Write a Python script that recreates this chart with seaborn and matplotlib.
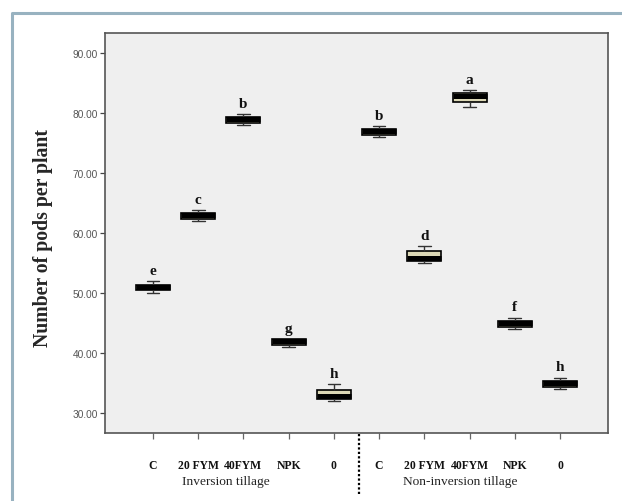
import numpy as np
import pandas as pd
import matplotlib
matplotlib.use("Agg")
import matplotlib.pyplot as plt
import matplotlib.transforms as mtransforms
from matplotlib.lines import Line2D
import seaborn as sns

# ---- data ----
treatments = ["C", "20 FYM", "40FYM", "NPK", "0"]
groups = ["Inversion tillage", "Non-inversion tillage"]
mins    = [50.0, 62.0, 78.0, 41.0, 32.0,   76.0, 55.0, 81.0, 44.0, 34.0]
q1s     = [50.5, 62.4, 78.3, 41.4, 32.3,   76.3, 55.3, 81.8, 44.3, 34.3]
medians = [51.0, 63.0, 79.0, 42.0, 32.9,   77.0, 55.9, 82.9, 45.0, 35.0]
q3s     = [51.4, 63.4, 79.3, 42.3, 33.8,   77.3, 57.0, 83.3, 45.3, 35.3]
maxs    = [52.0, 63.8, 79.8, 42.3, 34.8,   77.8, 57.8, 83.8, 45.9, 35.9]
letters = ["e", "c", "b", "g", "h",   "b", "d", "a", "f", "h"]
ytick_vals = [30, 40, 50, 60, 70, 80, 90]

rows = []
keys = []
for gi, g in enumerate(groups):
    for ti, t in enumerate(treatments):
        k = gi * len(treatments) + ti
        key = f"{g}|{t}"
        keys.append(key)
        for v in (mins[k], q1s[k], medians[k], q3s[k], maxs[k]):
            rows.append({"cell": key, "value": v})
df = pd.DataFrame(rows)

sns.set_theme(style="white")
plt.rcParams["font.family"] = ["Liberation Serif", "DejaVu Serif"]

fig = plt.figure(figsize=(6.22, 5.02), dpi=100)
ax = fig.add_axes([105 / 622, 1 - 434 / 502, (608 - 105) / 622, (434 - 34) / 502])
ax.set_facecolor("#efefef")

sns.boxplot(data=df, x="cell", y="value", order=keys, ax=ax,
            whis=(0, 100), width=0.75, color="#dcd8b6", saturation=1,
            linecolor="black", linewidth=1.2,
            medianprops=dict(color="black", linewidth=3.6, solid_capstyle="butt"),
            whiskerprops=dict(color="#333333", linewidth=1.0),
            capprops=dict(color="#333333", linewidth=1.0),
            capwidths=0.28)

ax.set_ylim(26.67, 93.33)
ax.set_xlim(-1.06, 10.06)
ax.set_yticks(ytick_vals)
ax.set_yticklabels([f"{v:.2f}" for v in ytick_vals], fontfamily="Liberation Sans",
                   fontsize=7.3, color="#555555")
ax.set_xticks(range(len(keys)))
ax.set_xticklabels(treatments * 2, fontweight="bold", fontsize=8.4, color="#111111")
ax.tick_params(axis="y", which="both", left=True, length=3.8, width=0.9, color="#444444", pad=1.5)
ax.tick_params(axis="x", which="both", bottom=True, length=4.5, width=0.9, color="#666666", pad=14)
for s in ax.spines.values():
    s.set_color("#555555")
    s.set_linewidth(1.2)

ax.set_xlabel("")
ax.set_ylabel("Number of pods per plant", fontsize=14.2, fontweight="bold")
ax.yaxis.set_label_coords(-0.104, 0.49)

# significance letters
for i, lt in enumerate(letters):
    ax.annotate(lt, xy=(i, maxs[i]), xytext=(0, 3), textcoords="offset points",
                ha="center", va="bottom", fontsize=11, fontweight="bold", color="#111111")

# group labels
tb = mtransforms.blended_transform_factory(ax.transData, fig.transFigure)
ax.text(1.62, 1 - 482 / 502, groups[0], transform=tb, ha="center", va="center",
        fontsize=9.6, color="#222222", clip_on=False)
ax.text(6.79, 1 - 482 / 502, groups[1], transform=tb, ha="center", va="center",
        fontsize=9.6, color="#222222", clip_on=False)

# dotted separator between the groups
ax.add_line(Line2D([4.55, 4.55], [1 - 435 / 502, 1 - 497 / 502], transform=tb,
                   linestyle=(0, (1, 1)), linewidth=1.6, color="black", clip_on=False))

# outer frame
fig.add_artist(Line2D([12 / 622, 12 / 622, 1.0], [0.0, 1 - 14 / 502, 1 - 14 / 502],
                      transform=fig.transFigure, color="#98b2c0", linewidth=2.2))

fig.savefig("out.png", dpi=100)
